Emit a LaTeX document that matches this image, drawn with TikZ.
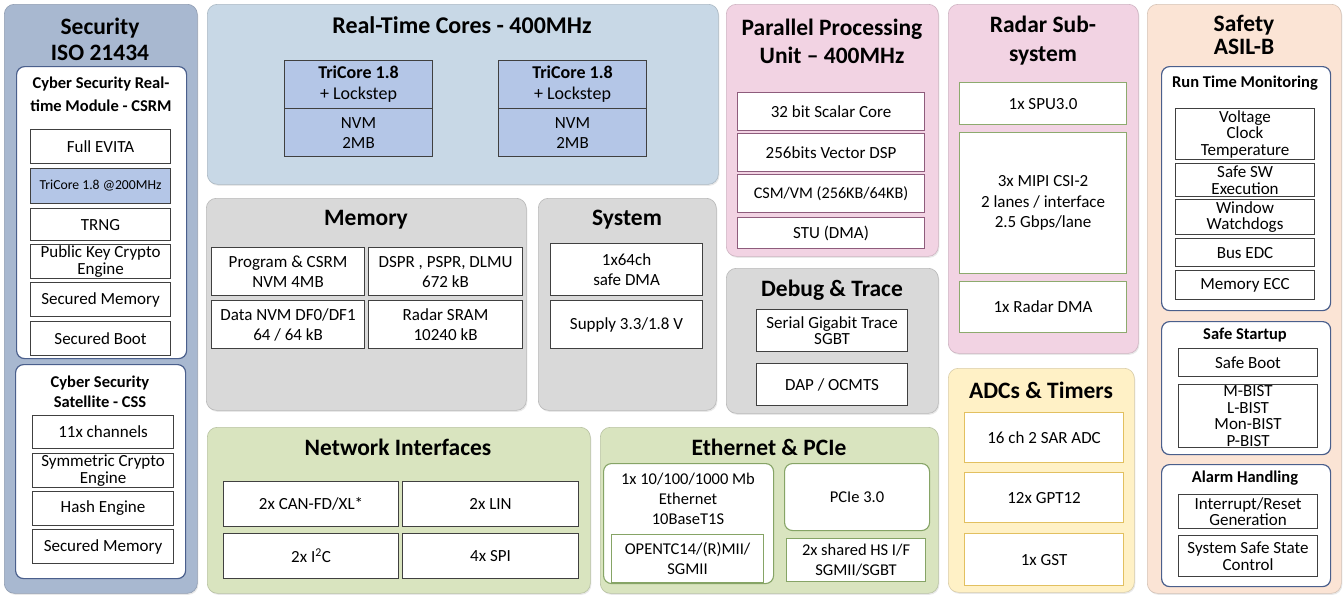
\documentclass[tikz,border=0pt]{standalone}
\usepackage{fontspec}
\setmainfont{Carlito}
\usepackage{tikz}
\usetikzlibrary{shadows}
\usepackage{xcolor}

\definecolor{secblue}{HTML}{A8B8D0}
\definecolor{rtblue}{HTML}{C8D8E6}
\definecolor{coreblue}{HTML}{B4C6E7}
\definecolor{memgray}{HTML}{D9D9D9}
\definecolor{ppupink}{HTML}{F2D3E3}
\definecolor{netgreen}{HTML}{D9E4BF}
\definecolor{adcyellow}{HTML}{FFF1C6}
\definecolor{safepeach}{HTML}{FBE4D5}
\definecolor{framedark}{HTML}{404040}
\definecolor{innerblue}{HTML}{4A5F8C}
\definecolor{ppuedge}{HTML}{8E5C7C}
\definecolor{radaredge}{HTML}{8DAA6E}
\definecolor{adcedge}{HTML}{E2C060}
\definecolor{ethedge}{HTML}{86A466}

% box from its top left (x1,y1) to its bottom right (x2,y2), in px
\newcommand{\blk}[7][item]{%
  \node[#1, anchor=north west, minimum width={(#5-#3)*1pt},
    minimum height={(#6-#4)*1pt}] (#2) at (#3,#4) {#7};}

\begin{document}
\begin{tikzpicture}[x=1pt, y=-1pt,
    % Default style for nodes
    every node/.style={inner sep=1pt, align=center, text=black},
    % Coloured background panels
    panel/.style={fill=#1, draw=#1!85!black, line width=0.6pt, rounded corners=10pt,
      drop shadow={opacity=0.18, shadow xshift=1pt, shadow yshift=-1.5pt}}
  ]
  % --- Styles for the boxes and headings ---
  \tikzstyle{item}=[draw=framedark, fill=white, line width=1.1pt, font=\fontsize{17}{20}\selectfont]
  \tikzstyle{tight}=[inner ysep=0pt, font=\fontsize{17}{16.5}\selectfont]
  \tikzstyle{group}=[draw=innerblue, fill=white, line width=1.2pt, rounded corners=8pt]
  \tikzstyle{title}=[font=\fontsize{23.5}{27}\selectfont\bfseries]
  \tikzstyle{subtitle}=[font=\fontsize{16.5}{22}\selectfont\bfseries]

  \fill[white] (0,0) rectangle (1344,597);
  \useasboundingbox (0,0) rectangle (1344,597);

  % --- Security ---
  \blk[panel=secblue]{sec}{4}{4}{197}{593}{}
  \node[title, font=\fontsize{23.5}{26}\selectfont\bfseries] (sectitle) at (100,39) {Security\\ISO 21434};
  \blk[group]{csrm}{16}{66}{186}{358}{}
  \node[subtitle, font=\fontsize{16.5}{23}\selectfont\bfseries] (csrmtitle) at (101,94) {Cyber Security Real-\\time Module - CSRM};
  \blk{evita}{30}{129}{170}{163}{Full EVITA}
  \blk[item, fill=coreblue, font=\fontsize{13.7}{15}\selectfont]{csrmcore}{30}{168}{170}{203}{TriCore 1.8 @200MHz}
  \blk{trng}{30}{208}{170}{240}{TRNG}
  \blk[item, tight]{pkc}{30}{244}{170}{278}{Public Key Crypto\\Engine}
  \blk{secmem}{30}{282}{170}{316}{Secured Memory}
  \blk{secboot}{30}{321}{170}{355}{Secured Boot}
  \blk[group]{css}{15}{364}{185}{578}{}
  \node[subtitle, font=\fontsize{16.5}{20}\selectfont\bfseries] (csstitle) at (100,392) {Cyber Security\\Satellite - CSS};
  \blk{chan}{32}{415}{173}{448}{11x channels}
  \blk[item, tight]{symm}{32}{453}{173}{487}{Symmetric Crypto\\Engine}
  \blk{hash}{32}{491}{173}{525}{Hash Engine}
  \blk{cssmem}{32}{529}{173}{563}{Secured Memory}

  % --- Real-Time Cores ---
  \blk[panel=rtblue]{rt}{207}{4}{718}{184}{}
  \node[title, font=\fontsize{24}{27}\selectfont\bfseries] (rttitle) at (462,25) {Real-Time Cores - 400MHz};
  \blk[item, fill=coreblue, font=\fontsize{18}{21}\selectfont]{tcA}{284}{60}{432}{108}{\textbf{TriCore 1.8}\\+ Lockstep}
  \blk[item, fill=coreblue]{nvmA}{284}{108}{432}{156}{NVM\\2MB}
  \blk[item, fill=coreblue, font=\fontsize{18}{21}\selectfont]{tcB}{498}{60}{646}{108}{\textbf{TriCore 1.8}\\+ Lockstep}
  \blk[item, fill=coreblue]{nvmB}{498}{108}{646}{156}{NVM\\2MB}

  % --- Memory and System ---
  \blk[panel=memgray]{mem}{206}{198}{526}{410}{}
  \node[title] (memtitle) at (366,220) {Memory};
  \blk{prog}{211}{247}{364}{295}{Program \& CSRM\\NVM 4MB}
  \blk{dspr}{368}{247}{522}{295}{DSPR , PSPR, DLMU\\672 kB}
  \blk{dnvm}{211}{300}{364}{348}{Data NVM DF0/DF1\\64 / 64 kB}
  \blk{rsram}{368}{300}{522}{348}{Radar SRAM\\10240 kB}
  \blk[panel=memgray]{sys}{538}{198}{716}{410}{}
  \node[title] (systitle) at (627,220) {System};
  \blk{sdma}{550}{243}{702}{295}{1x64ch\\safe DMA}
  \blk{supply}{550}{300}{702}{348}{Supply 3.3/1.8 V}

  % --- Parallel Processing Unit and Debug ---
  \blk[panel=ppupink]{ppu}{726}{4}{938}{256}{}
  \node[title, font=\fontsize{23.5}{28}\selectfont\bfseries] (pputitle) at (832,41) {Parallel Processing\\Unit -- 400MHz};
  \blk[item, draw=ppuedge]{scalar}{737}{92}{924}{130}{32 bit Scalar Core}
  \blk[item, draw=ppuedge]{vdsp}{737}{133}{924}{171}{256bits Vector DSP}
  \blk[item, draw=ppuedge, font=\fontsize{16.2}{19}\selectfont]{csm}{737}{174}{924}{212}{CSM/VM (256KB/64KB)}
  \blk[item, draw=ppuedge]{stu}{737}{217}{924}{248}{STU (DMA)}
  \blk[panel=memgray]{dbg}{726}{268}{938}{413}{}
  \node[title] (dbgtitle) at (832,290) {Debug \& Trace};
  \blk[item, tight]{sgbt}{756}{309}{907}{351}{Serial Gigabit Trace\\SGBT}
  \blk{dap}{756}{363}{907}{405}{DAP / OCMTS}

  % --- Radar and ADCs ---
  \blk[panel=ppupink]{radar}{948}{4}{1138}{353}{}
  \node[title, font=\fontsize{23.5}{29}\selectfont\bfseries] (radtitle) at (1043,41) {Radar Sub-\\system};
  \blk[item, draw=radaredge]{spu}{959}{82}{1126}{124}{1x SPU3.0}
  \blk[item, draw=radaredge, font=\fontsize{17}{20.5}\selectfont]{mipi}{959}{132}{1126}{273}{3x MIPI CSI-2\\2 lanes / interface\\2.5 Gbps/lane}
  \blk[item, draw=radaredge]{rdma}{959}{281}{1126}{332}{1x Radar DMA}
  \blk[panel=adcyellow]{adc}{948}{368}{1134}{592}{}
  \node[title] (adctitle) at (1041,390) {ADCs \& Timers};
  \blk[item, draw=adcedge]{sar}{964}{412}{1123}{462}{16 ch 2 SAR ADC}
  \blk[item, draw=adcedge]{gpt}{964}{472}{1123}{522}{12x GPT12}
  \blk[item, draw=adcedge]{gst}{964}{533}{1123}{585}{1x GST}

  % --- Safety ---
  \blk[panel=safepeach]{safety}{1147}{4}{1341}{593}{}
  \node[title, font=\fontsize{23.5}{23}\selectfont\bfseries] (safetitle) at (1244,35) {Safety\\ASIL-B};
  \blk[group]{rtm}{1161}{66}{1330}{310}{}
  \node[subtitle] (rtmtitle) at (1245,83) {Run Time Monitoring};
  \blk[item, tight]{vct}{1175}{108}{1314}{159}{Voltage\\Clock\\Temperature}
  \blk[item, tight]{ssw}{1175}{163}{1314}{196}{Safe SW\\Execution}
  \blk[item, tight]{wdg}{1175}{199}{1314}{234}{Window\\Watchdogs}
  \blk{edc}{1175}{238}{1314}{266}{Bus EDC}
  \blk{ecc}{1175}{270}{1314}{299}{Memory ECC}
  \blk[group]{startup}{1161}{321}{1330}{454}{}
  \node[subtitle] (startitle) at (1245,335) {Safe Startup};
  \blk{sboot}{1178}{348}{1317}{376}{Safe Boot}
  \blk[item, tight]{bist}{1178}{384}{1317}{447}{M-BIST\\L-BIST\\Mon-BIST\\P-BIST}
  \blk[group]{alarm}{1161}{464}{1330}{586}{}
  \node[subtitle] (alarmtitle) at (1245,478) {Alarm Handling};
  \blk[item, tight]{irq}{1178}{494}{1317}{528}{Interrupt/Reset\\Generation}
  \blk[item, tight]{sss}{1178}{535}{1317}{576}{System Safe State\\Control}

  % --- Network Interfaces ---
  \blk[panel=netgreen]{net}{207}{427}{590}{593}{}
  \node[title] (nettitle) at (398,447) {Network Interfaces};
  \blk{can}{223}{481}{398}{526}{2x CAN-FD/XL*}
  \blk{lin}{402}{481}{578}{526}{2x LIN}
  \blk{iic}{223}{533}{398}{578}{2x I\textsuperscript{2}C}
  \blk{spi}{402}{533}{578}{578}{4x SPI}

  % --- Ethernet & PCIe ---
  \blk[panel=netgreen]{ethpcie}{600}{427}{938}{593}{}
  \node[title] (ethtitle) at (769,447) {Ethernet \& PCIe};
  \blk[item, draw=ethedge, rounded corners=8pt]{eth}{603}{463}{773}{583}{}
  \node[font=\fontsize{16.5}{20}\selectfont] (ethtext) at (688,499) {1x 10/100/1000 Mb\\Ethernet\\10BaseT1S};
  \blk[item, tight, draw=ethedge, font=\fontsize{16.5}{20}\selectfont]{opentc}{611}{534}{763}{582}{OPENTC14/(R)MII/\\SGMII}
  \blk[item, draw=ethedge, rounded corners=8pt, font=\fontsize{16.5}{19}\selectfont]{pcie}{784}{463}{929}{530}{PCIe 3.0}
  \blk[item, tight, draw=ethedge, font=\fontsize{16.5}{20}\selectfont]{hsif}{786}{538}{925}{581}{2x shared HS I/F\\SGMII/SGBT}
\end{tikzpicture}
\end{document}
